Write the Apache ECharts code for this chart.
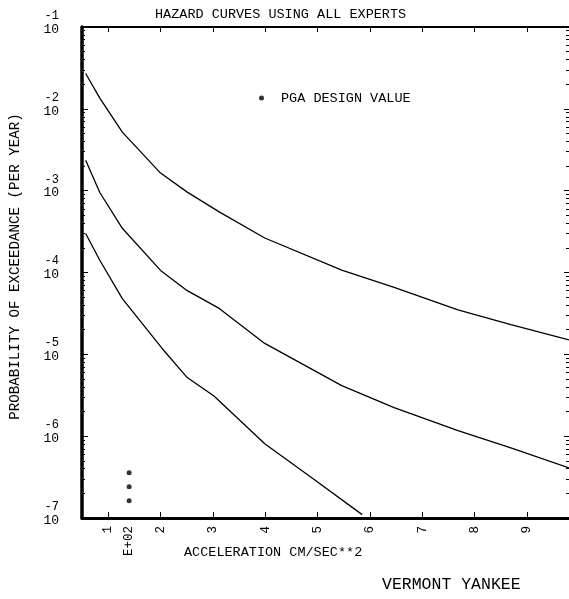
<!DOCTYPE html>
<html>
<head>
<meta charset="utf-8">
<script src="https://cdn.jsdelivr.net/npm/echarts@6/dist/echarts.min.js"></script>
<style>html,body{margin:0;padding:0;background:#fff;}#c{width:569px;height:599px;}</style>
</head>
<body>
<div id="c"></div>
<script>
// Acceleration in units of 100 cm/sec**2 (E+02)
const upperAccel = [0.57, 0.84, 1.27, 2.0, 2.51, 3.12, 3.99, 5.46, 6.46, 7.68, 8.69, 9.8];
const upperProb  = [2.7e-2, 1.35e-2, 5.2e-3, 1.64e-3, 9.6e-4, 5.5e-4, 2.64e-4, 1.07e-4, 6.6e-5, 3.5e-5, 2.3e-5, 1.5e-5];
const middleAccel = [0.57, 0.84, 1.27, 2.0, 2.51, 3.12, 3.99, 5.46, 6.46, 7.68, 8.69, 9.8];
const middleProb  = [2.36e-3, 9.5e-4, 3.47e-4, 1.06e-4, 6.0e-5, 3.64e-5, 1.36e-5, 4.15e-6, 2.23e-6, 1.17e-6, 7.2e-7, 4.1e-7];
const lowerAccel = [0.57, 0.84, 1.27, 2.03, 2.51, 3.02, 3.99, 4.92, 5.85];
const lowerProb  = [3.0e-4, 1.41e-4, 4.8e-5, 1.18e-5, 5.2e-6, 3.1e-6, 8.1e-7, 3.0e-7, 1.1e-7];
const pgaAccel = [1.4, 1.4, 1.4];
const pgaProb  = [3.57e-7, 2.41e-7, 1.62e-7];
const xTickValues = [1, 2, 3, 4, 5, 6, 7, 8, 9];
const xLabelValues = [1, 1.4, 2, 3, 4, 5, 6, 7, 8, 9];

const FONT = 'Liberation Mono';
const pair = (xs, ys) => xs.map((x, i) => [x, ys[i]]);
const lineSeries = (xs, ys) => ({
  type: 'line', data: pair(xs, ys), showSymbol: false, symbol: 'none',
  lineStyle: { color: '#000', width: 1.3 }, silent: true, z: 3
});

const chart = echarts.init(document.getElementById('c'), null, { renderer: 'canvas' });
chart.setOption({
  backgroundColor: '#fff',
  animation: false,
  title: {
    text: 'HAZARD CURVES USING ALL EXPERTS',
    left: 150, top: 2,
    textStyle: { fontFamily: FONT, fontSize: 13.5, fontWeight: 'normal', color: '#000' }
  },
  legend: {
    data: [{ name: 'PGA DESIGN VALUE', icon: 'circle' }],
    left: 254, top: 86, itemWidth: 5, itemHeight: 5, itemGap: 0,
    textStyle: { fontFamily: FONT, fontSize: 13.5, color: '#000', padding: [0, 0, 0, 12] },
    selectedMode: false
  },
  grid: { left: 80, right: 0, top: 27, bottom: 81, containLabel: false },
  xAxis: [{
    type: 'value', min: 0.5, max: 9.8, position: 'bottom',
    axisLine: { show: true, lineStyle: { color: '#000', width: 3 } },
    axisTick: { show: true, inside: true, length: 6, customValues: xTickValues, lineStyle: { color: '#000', width: 1 } },
    axisLabel: {
      customValues: xLabelValues, rotate: 90, margin: 8,
      fontFamily: FONT, fontSize: 12.5, color: '#000',
      formatter: v => (Math.abs(v - 1.4) < 1e-6 ? 'E+02' : String(Math.round(v)))
    },
    splitLine: { show: false },
    name: 'ACCELERATION CM/SEC**2', nameLocation: 'start', nameGap: 0,
    nameTextStyle: { fontFamily: FONT, fontSize: 13.5, color: '#000', align: 'left', verticalAlign: 'top', padding: [27, 0, 0, 102] }
  }, {
    type: 'value', min: 0.5, max: 9.8, position: 'top',
    axisLine: { show: true, lineStyle: { color: '#000', width: 2 } },
    axisTick: { show: true, inside: true, length: 5, customValues: xTickValues, lineStyle: { color: '#000', width: 1 } },
    axisLabel: { show: false }, splitLine: { show: false }
  }],
  yAxis: [{
    type: 'log', logBase: 10, min: 1e-7, max: 1e-1, position: 'left',
    axisLine: { show: true, lineStyle: { color: '#000', width: 3.5 } },
    axisTick: { show: true, inside: true, length: 6, lineStyle: { color: '#000', width: 1 } },
    minorTick: { show: true, splitNumber: 9, length: 3, lineStyle: { color: '#000', width: 1 } },
    axisLabel: {
      margin: 23, fontFamily: FONT, color: '#000', padding: [0, 0, 9, 0], align: 'right',
      formatter: v => '{s|' + Math.round(Math.log10(v)) + '}\n{b|10}',
      rich: {
        b: { fontFamily: FONT, fontSize: 13, lineHeight: 13.5, color: '#000', align: 'right' },
        s: { fontFamily: FONT, fontSize: 12, lineHeight: 13.5, color: '#000', align: 'right' }
      }
    },
    splitLine: { show: false },
    name: 'PROBABILITY OF EXCEEDANCE (PER YEAR)', nameLocation: 'middle', nameGap: 60, nameRotate: 90,
    nameTextStyle: { fontFamily: FONT, fontSize: 14.2, color: '#000', padding: [0, 0, 0, 12] }
  }, {
    type: 'log', logBase: 10, min: 1e-7, max: 1e-1, position: 'right',
    axisLine: { show: false },
    axisTick: { show: true, inside: true, length: 5, lineStyle: { color: '#000', width: 1 } },
    minorTick: { show: true, splitNumber: 9, length: 3, lineStyle: { color: '#000', width: 1 } },
    axisLabel: { show: false }, splitLine: { show: false }
  }],
  graphic: [{
    type: 'text', left: 382, top: 576,
    style: { text: 'VERMONT YANKEE', fontFamily: FONT, fontSize: 16.5, fill: '#000' }
  }],
  series: [
    lineSeries(upperAccel, upperProb),
    lineSeries(middleAccel, middleProb),
    lineSeries(lowerAccel, lowerProb),
    {
      name: 'PGA DESIGN VALUE', type: 'scatter', data: pair(pgaAccel, pgaProb),
      symbol: 'circle', symbolSize: 5, itemStyle: { color: '#000' }, silent: true, z: 4
    }
  ]
});
</script>
</body>
</html>
